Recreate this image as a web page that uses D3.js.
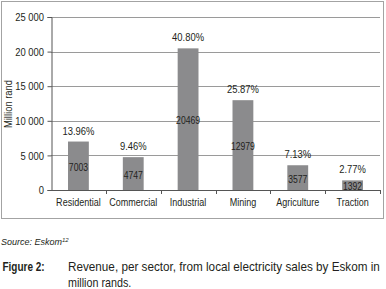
<!DOCTYPE html>
<html lang="en">
<head>
    <meta charset="UTF-8">
    <script src="https://cdn.jsdelivr.net/npm/d3@7"></script>
    <style>
        body { margin: 0; background: #fff; }
        text { font-family: "Liberation Sans", Arial, sans-serif; fill: #231f20; }
    </style>
</head>
<body>
<div id="fig"></div>
<script>
    const sectors = ["Residential", "Commercial", "Industrial", "Mining", "Agriculture", "Traction"];
    const revenue = [7003, 4747, 20469, 12979, 3577, 1392];
    const shares = ["13.96%", "9.46%", "40.80%", "25.87%", "7.13%", "2.77%"];
    const yTicks = [0, 5000, 10000, 15000, 20000, 25000];

    const width = 386, height = 289;
    const narrow = 0.82; // squeeze Liberation Sans to look like Arial Narrow
    const svg = d3.select("#fig").append("svg")
        .attr("width", width)
        .attr("height", height);

    // place a text at x,y squeezed horizontally
    const put = (sel, x, y, s = narrow) => sel.attr("transform", (d, i) =>
        `translate(${typeof x === "function" ? x(d, i) : x},${typeof y === "function" ? y(d, i) : y}) scale(${s},1)`);

    // frame round the chart
    svg.append("rect")
        .attr("x", 1.5).attr("y", 1.5)
        .attr("width", 382).attr("height", 217)
        .attr("fill", "none")
        .attr("stroke", "#a3a3a3");

    const x = d3.scaleBand().domain(sectors).range([51, 380]).paddingInner(0.62).paddingOuter(0.31);
    const y = d3.scaleLinear().domain([0, 25000]).range([190, 17]);

    // gridlines
    svg.append("g")
        .selectAll("line")
        .data(yTicks.slice(1))
        .join("line")
        .attr("x1", 51).attr("x2", 380)
        .attr("y1", d => Math.round(y(d)) + 0.5)
        .attr("y2", d => Math.round(y(d)) + 0.5)
        .attr("stroke", "#9a9a9a");

    const fmt = d => d3.format(",")(d).replace(",", " ");
    const yAxis = svg.append("g")
        .attr("transform", "translate(51.5,0)")
        .call(d3.axisLeft(y).tickValues(yTicks).tickFormat(fmt).tickSize(4).tickPadding(3));
    yAxis.select(".domain").attr("stroke", "#555");
    yAxis.selectAll(".tick line").attr("stroke", "#555");
    yAxis.selectAll("text")
        .style("font-size", "11.5px")
        .attr("fill", "#231f20")
        .attr("x", -7.5 / narrow)
        .attr("transform", `scale(${narrow},1)`);

    // x axis with ticks at band edges
    const xAxis = svg.append("g");
    xAxis.append("line")
        .attr("x1", 51).attr("x2", 380)
        .attr("y1", 190.5).attr("y2", 190.5)
        .attr("stroke", "#555");
    const step = x.step();
    xAxis.selectAll(".edge")
        .data(sectors)
        .join("line")
        .attr("class", "edge")
        .attr("x1", d => Math.round(x(d) - x.paddingOuter() * step + step) + 0.5)
        .attr("x2", d => Math.round(x(d) - x.paddingOuter() * step + step) + 0.5)
        .attr("y1", 190).attr("y2", 194)
        .attr("stroke", "#555");
    xAxis.selectAll("text")
        .data(sectors)
        .join("text")
        .attr("text-anchor", "middle")
        .style("font-size", "11px")
        .text(d => d)
        .call(put, d => x(d) + x.bandwidth() / 2, 206);

    // bars
    svg.selectAll(".bar")
        .data(sectors)
        .join("rect")
        .attr("class", "bar")
        .attr("x", d => x(d))
        .attr("width", x.bandwidth())
        .attr("y", (d, i) => y(revenue[i]))
        .attr("height", (d, i) => y(0) - y(revenue[i]))
        .attr("fill", "#8b8b8d");

    // values inside bars
    svg.selectAll(".val")
        .data(sectors)
        .join("text")
        .attr("class", "val")
        .attr("text-anchor", "middle")
        .style("font-size", "10.5px")
        .text((d, i) => revenue[i])
        .call(put, d => x(d) + x.bandwidth() / 2, (d, i) => (y(revenue[i]) + y(0)) / 2 + 5);

    // percentage shares above bars
    svg.selectAll(".pct")
        .data(sectors)
        .join("text")
        .attr("class", "pct")
        .attr("text-anchor", "middle")
        .style("font-size", "11.5px")
        .text((d, i) => shares[i])
        .call(put, d => x(d) + x.bandwidth() / 2, (d, i) => y(revenue[i]) - 7);

    // y label
    svg.append("text")
        .attr("transform", `translate(12,104) rotate(-90) scale(${narrow},1)`)
        .attr("text-anchor", "middle")
        .style("font-size", "11.5px")
        .text("Million rand");

    // source + caption
    const src = svg.append("text")
        .attr("x", 1).attr("y", 245)
        .style("font-size", "9px")
        .style("font-style", "italic");
    src.append("tspan").text("Source: Eskom");
    src.append("tspan").attr("dy", -3).style("font-size", "6px").text("12");

    svg.append("text")
        .style("font-size", "12.5px")
        .style("font-weight", "bold")
        .text("Figure 2:")
        .call(put, 2.5, 271, 0.8);
    // first caption line is justified: squeeze it to end at the frame edge
    const line1 = svg.append("text")
        .style("font-size", "12.5px")
        .text("Revenue, per sector, from local electricity sales by Eskom in");
    const w1 = line1.node().getComputedTextLength();
    line1.call(put, 68, 271, 312 / w1);
    svg.append("text")
        .style("font-size", "12.5px")
        .text("million rands.")
        .call(put, 68, 287, 0.86);
</script>
</body>
</html>
